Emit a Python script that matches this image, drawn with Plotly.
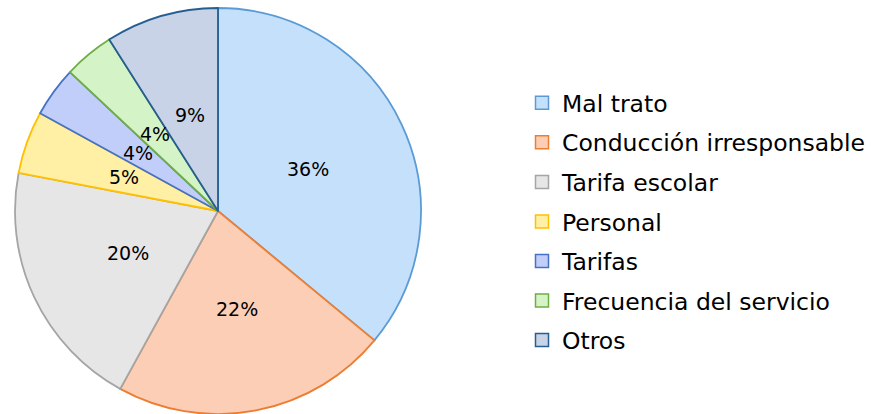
import math
import plotly.graph_objects as go

labels = ["Mal trato", "Conducción irresponsable", "Tarifa escolar", "Personal",
          "Tarifas", "Frecuencia del servicio", "Otros"]
values = [36, 22, 20, 5, 4, 4, 9]
pct_text = ["36%", "22%", "20%", "5%", "4%", "4%", "9%"]
fill_colors = ["#c4e0fb", "#fcceb6", "#e6e6e6", "#fff0a6", "#c2cefa", "#d4f3c6", "#c9d3e8"]
line_colors = ["#5b9bd5", "#ed7d31", "#a5a5a5", "#ffc000", "#4472c4", "#70ad47", "#255e91"]

W, H = 871, 414
cx, cy, R = 218, 211, 203
FONT = "DejaVu Sans, Verdana, sans-serif"

fig = go.Figure()
fig.add_trace(go.Pie(
    labels=labels, values=values, sort=False, direction="clockwise", rotation=0,
    textinfo="none", hoverinfo="label+percent", showlegend=False,
    marker=dict(colors=fill_colors, line=dict(color=line_colors, width=1.8)),
    domain=dict(x=[(cx - R) / W, (cx + R) / W], y=[max(0, 1 - (cy + R) / H), 1 - (cy - R) / H]),
))

# percentage labels placed at mid-angle of each slice, ~half radius
total = sum(values)
annotations = []
cum = 0
for v, t in zip(values, pct_text):
    mid = (cum + v / 2) / total
    cum += v
    th = 2 * math.pi * mid
    px = cx + 0.49 * R * math.sin(th)
    py = cy - 0.49 * R * math.cos(th)
    annotations.append(dict(x=px / W, y=1 - py / H, xref="paper", yref="paper",
                            xanchor="center", yanchor="middle",
                            text=t, showarrow=False,
                            font=dict(family=FONT, size=19, color="#000000")))

# legend entries
for lab, fc, lc in zip(labels, fill_colors, line_colors):
    fig.add_trace(go.Scatter(
        x=[None], y=[None], mode="markers", name=lab, legendgroup=lab,
        marker=dict(symbol="square", size=13, color=fc, line=dict(color=lc, width=1.5)),
        hoverinfo="skip",
    ))

fig.update_layout(
    width=W, height=H,
    margin=dict(l=0, r=0, t=0, b=0),
    paper_bgcolor="white", plot_bgcolor="white",
    xaxis=dict(visible=False), yaxis=dict(visible=False),
    annotations=annotations,
    showlegend=True,
    legend=dict(x=522 / W, y=1 - 81 / H, xanchor="left", yanchor="top",
                traceorder="grouped", tracegroupgap=6,
                font=dict(family=FONT, size=23.5, color="#000000"),
                bgcolor="rgba(0,0,0,0)"),
)

fig.write_html("out.html", config={"displayModeBar": False},
               post_script="document.body.style.margin='0';document.body.style.padding='0';")
